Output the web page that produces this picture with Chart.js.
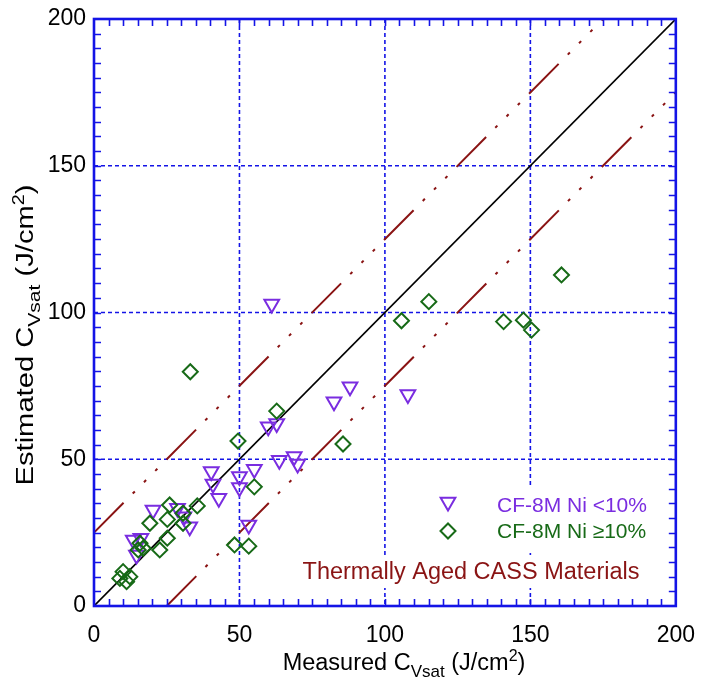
<!DOCTYPE html>
<html>
<head>
<meta charset="utf-8">
<script src="https://cdn.jsdelivr.net/npm/chart.js@4.4.0/dist/chart.umd.min.js"></script>
<style>
  html, body { margin: 0; padding: 0; background: #fff; }
</style>
</head>
<body>
<canvas id="chart" width="703" height="683"></canvas>
<script>
// Estimated vs measured C_Vsat, thermally aged CASS

// CF-8M Ni <10% (open down-triangles)
const lowNiMeasured = [61.1, 88.0, 82.5, 62.8, 59.9, 63.7, 68.8, 70.0, 40.3, 40.9, 42.9, 50.0,
  50.0, 55.1, 53.2, 107.9, 20.3, 13.5, 16.1, 14.6, 28.7, 30.9, 32.9];
const lowNiEstimated = [102.9, 74.7, 69.6, 62.2, 61.1, 49.7, 50.9, 48.4, 45.8, 41.6, 36.7, 44.1,
  40.4, 46.6, 27.6, 72.1, 32.7, 22.5, 23.1, 17.4, 33.3, 30.4, 27.0];

// CF-8M Ni >=10% (open diamonds)
const highNiMeasured = [33.1, 62.8, 49.5, 55.1, 48.3, 53.2, 85.6, 115.1, 105.7, 140.8, 147.6, 150.4,
  160.7, 26.0, 35.5, 19.2, 25.2, 30.6, 30.6, 25.2, 22.6, 15.8, 16.9, 15.2, 10.0, 8.9, 12.3, 11.2];
const highNiEstimated = [79.8, 66.4, 56.2, 40.6, 20.8, 20.4, 55.2, 103.7, 97.2, 96.9, 97.4, 94.0,
  112.8, 34.4, 34.1, 28.2, 29.5, 31.6, 28.2, 23.1, 19.1, 21.4, 19.7, 19.1, 11.7, 9.4, 10.0, 8.3];

// axes
const axisMin = 0;
const axisMax = 200;
const majorStep = 50;
const minorStep = 5;
const gridValues = [50, 100, 150];

// 1:1 line and the +/-25 band
const bandOffset = 25;

const seriesLabels = ['CF-8M Ni <10%', 'CF-8M Ni \u226510%'];
const noteText = 'Thermally Aged CASS Materials';

const BLUE = '#1414e6';
const PURPLE = '#7a2de0';
const GREEN = '#176a17';
const DARKRED = '#8a1414';
const FONT = '"Liberation Sans", Arial, Helvetica, sans-serif';
const BAND_DASH = [42, 13, 3, 13, 3, 13, 3, 13];

function toPoints(xs, ys) {
  return xs.map((x, i) => ({ x: x, y: ys[i] }));
}

// draws text pieces one after another, with sub/superscript shifts
function drawSubSupTitle(ctx, parts) {
  let x = 0;
  parts.forEach(p => {
    ctx.font = p.size + 'px ' + FONT;
    ctx.fillText(p.text, x, p.shift);
    x += ctx.measureText(p.text).width;
  });
}

function titleWidth(ctx, parts) {
  let w = 0;
  parts.forEach(p => {
    ctx.font = p.size + 'px ' + FONT;
    w += ctx.measureText(p.text).width;
  });
  return w;
}

function titleParts(main) {
  return [
    { text: main + ' C', size: 23.5, shift: 0 },
    { text: 'Vsat', size: 17, shift: 7 },
    { text: ' (J/cm', size: 23.5, shift: 0 },
    { text: '2', size: 16, shift: -9 },
    { text: ')', size: 23.5, shift: 0 }
  ];
}

function downTriangle(ctx, x, y, r) {
  ctx.beginPath();
  ctx.moveTo(x - r * 0.866, y - r * 0.5);
  ctx.lineTo(x + r * 0.866, y - r * 0.5);
  ctx.lineTo(x, y + r);
  ctx.closePath();
}

function diamond(ctx, x, y, r) {
  ctx.beginPath();
  ctx.moveTo(x - r, y);
  ctx.lineTo(x, y - r);
  ctx.lineTo(x + r, y);
  ctx.lineTo(x, y + r);
  ctx.closePath();
}

const framePlugin = {
  id: 'frame',
  beforeDatasetsDraw(chart) {
    const { ctx, chartArea: a, scales: { x, y } } = chart;
    ctx.save();
    // dashed grid
    ctx.strokeStyle = BLUE;
    ctx.lineWidth = 1.6;
    ctx.setLineDash([4, 3]);
    gridValues.forEach(v => {
      const px = x.getPixelForValue(v);
      const py = y.getPixelForValue(v);
      ctx.beginPath();
      ctx.moveTo(px, a.top);
      ctx.lineTo(px, a.bottom);
      ctx.stroke();
      ctx.beginPath();
      ctx.moveTo(a.left, py);
      ctx.lineTo(a.right, py);
      ctx.stroke();
    });
    ctx.setLineDash([]);
    // white boxes behind legend and note
    ctx.fillStyle = '#fff';
    ctx.fillRect(430, 487, a.right - 432, 66);
    ctx.fillRect(298, 558, 345, 30);
    ctx.restore();
  },
  afterDraw(chart) {
    const { ctx, chartArea: a, scales: { x, y } } = chart;
    ctx.save();

    // inward ticks on all four sides
    ctx.strokeStyle = BLUE;
    ctx.lineWidth = 1.6;
    for (let v = axisMin + minorStep; v < axisMax; v += minorStep) {
      const px = Math.round(x.getPixelForValue(v)) + 0.5;
      const py = Math.round(y.getPixelForValue(v)) + 0.5;
      const len = 7;
      ctx.beginPath();
      ctx.moveTo(px, a.bottom); ctx.lineTo(px, a.bottom - len);
      ctx.moveTo(px, a.top); ctx.lineTo(px, a.top + len);
      ctx.moveTo(a.left, py); ctx.lineTo(a.left + len, py);
      ctx.moveTo(a.right, py); ctx.lineTo(a.right - len, py);
      ctx.stroke();
    }

    // frame
    ctx.lineWidth = 2.6;
    ctx.strokeRect(a.left, a.top, a.right - a.left, a.bottom - a.top);

    // legend
    ctx.lineWidth = 2;
    downTriangle(ctx, 448, 502, 8.5);
    ctx.strokeStyle = PURPLE;
    ctx.stroke();
    diamond(ctx, 448, 531, 7.5);
    ctx.strokeStyle = GREEN;
    ctx.stroke();

    ctx.font = '21px ' + FONT;
    ctx.textBaseline = 'middle';
    ctx.textAlign = 'left';
    ctx.fillStyle = PURPLE;
    ctx.fillText(seriesLabels[0], 497, 506);
    ctx.fillStyle = GREEN;
    ctx.fillText(seriesLabels[1], 497, 532);

    ctx.font = '23.5px ' + FONT;
    ctx.fillStyle = DARKRED;
    ctx.textAlign = 'center';
    ctx.fillText(noteText, 471, 573);

    // axis titles
    ctx.fillStyle = '#000';
    ctx.textAlign = 'left';
    ctx.textBaseline = 'alphabetic';
    const xp = titleParts('Measured');
    const xw = titleWidth(ctx, xp);
    ctx.save();
    ctx.translate(404 - xw / 2, 670);
    drawSubSupTitle(ctx, xp);
    ctx.restore();

    const yp = titleParts('Estimated');
    const stretch = 1.24;
    const yw = titleWidth(ctx, yp) * stretch;
    ctx.save();
    ctx.translate(33, 335 + yw / 2);
    ctx.rotate(-Math.PI / 2);
    ctx.scale(stretch, 1);
    drawSubSupTitle(ctx, yp);
    ctx.restore();

    ctx.restore();
  }
};

const refLine = (pts, color, dash, width) => ({
  type: 'line',
  data: pts,
  borderColor: color,
  borderWidth: width,
  borderDash: dash,
  pointRadius: 0,
  fill: false,
  tension: 0,
  order: 5
});

const tickOpts = {
  color: '#000',
  font: { family: FONT, size: 23 },
  stepSize: majorStep
};

new Chart(document.getElementById('chart'), {
  type: 'scatter',
  data: {
    datasets: [
      refLine([{ x: axisMin, y: axisMin }, { x: axisMax, y: axisMax }], '#000', [], 1.6),
      refLine([{ x: axisMin, y: axisMin + bandOffset }, { x: axisMax - bandOffset, y: axisMax }],
        DARKRED, BAND_DASH, 2),
      refLine([{ x: axisMin + bandOffset, y: axisMin }, { x: axisMax, y: axisMax - bandOffset }],
        DARKRED, BAND_DASH, 2),
      {
        label: seriesLabels[0],
        data: toPoints(lowNiMeasured, lowNiEstimated),
        pointStyle: 'triangle',
        rotation: 180,
        radius: 8.5,
        borderWidth: 2,
        borderColor: PURPLE,
        backgroundColor: 'rgba(0,0,0,0)',
        order: 2
      },
      {
        label: seriesLabels[1],
        data: toPoints(highNiMeasured, highNiEstimated),
        pointStyle: 'rectRot',
        radius: 7.5,
        borderWidth: 2,
        borderColor: GREEN,
        backgroundColor: 'rgba(0,0,0,0)',
        order: 1
      }
    ]
  },
  options: {
    responsive: false,
    animation: false,
    layout: { padding: { top: 19, right: 17, left: 0, bottom: 0 } },
    plugins: {
      legend: { display: false },
      tooltip: { enabled: false }
    },
    scales: {
      x: {
        type: 'linear',
        min: axisMin,
        max: axisMax,
        grid: { display: false },
        border: { display: false },
        ticks: Object.assign({ padding: 8, maxRotation: 0 }, tickOpts),
        afterFit(scale) { scale.height = 77; }
      },
      y: {
        type: 'linear',
        min: axisMin,
        max: axisMax,
        grid: { display: false },
        border: { display: false },
        ticks: Object.assign({ padding: 0 }, tickOpts),
        afterFit(scale) { scale.width = 94; }
      }
    }
  },
  plugins: [framePlugin]
});
</script>
</body>
</html>
